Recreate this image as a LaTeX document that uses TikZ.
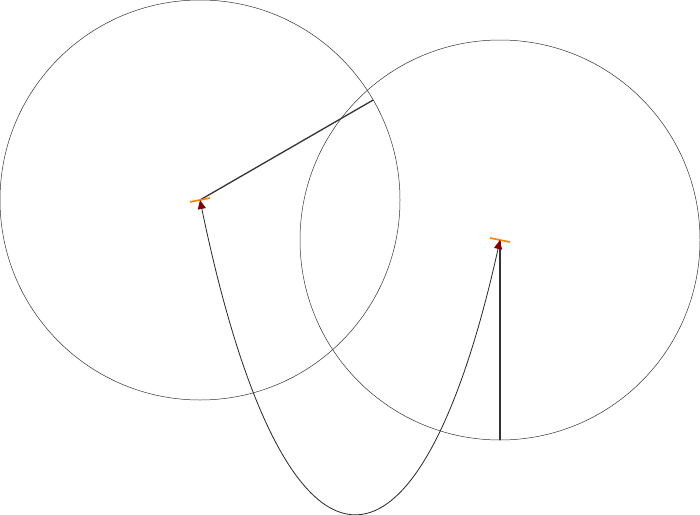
\documentclass[tikz,border=0pt]{standalone}
\usepackage{tikz}
\usetikzlibrary{arrows.meta}

\begin{document}
\begin{tikzpicture}[x=1pt,y=-1pt]
\tikzset{circ/.style={draw=black!80,line width=0.5pt},
 radius line/.style={draw=black!80,line width=1.3pt},
 bar/.style={draw=orange,line width=1.6pt}}
\useasboundingbox (0,0) rectangle (700,514);
\coordinate (c1) at (200,200);
\coordinate (c2) at (500,240);
\draw[circ] (c1) circle[radius=200];
\draw[circ] (c2) circle[radius=200];
\coordinate (p1) at (373.2,100);
\coordinate (p2) at (500,440);
\draw[radius line] (c1) -- (p1);
\draw[radius line] (p2) -- (c2);
% orange bars at the centres
\draw[bar] (190,202) -- (210,198);
\draw[bar] (490,238) -- (510,242);
% the curve between the centres
\draw[black!85,line width=0.8pt,{Triangle[length=9pt,width=8pt,color=red!50!black]}-{Triangle[length=9pt,width=8pt,color=red!50!black]}]
  (c1) .. controls (285,610) and (418,610) .. (c2);
\end{tikzpicture}
\end{document}
